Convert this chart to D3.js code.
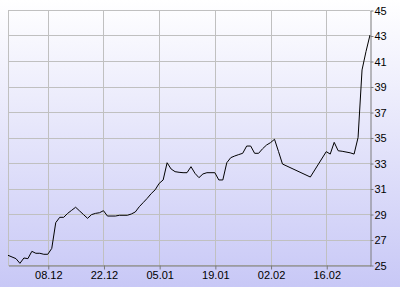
<!DOCTYPE html>
<html>
<head>
<meta charset="utf-8">
<script src="https://cdn.jsdelivr.net/npm/d3@7"></script>
<style>
  body { margin: 0; }
  svg { display: block; font-family: "Liberation Sans", Arial, sans-serif; }
</style>
</head>
<body>
<svg id="chart" width="400" height="287"></svg>
<script>
// data
const dates = [
  "2008-11-28", "2008-11-30", "2008-12-01", "2008-12-02", "2008-12-03", "2008-12-04",
  "2008-12-05", "2008-12-06", "2008-12-07", "2008-12-08", "2008-12-09", "2008-12-10",
  "2008-12-11", "2008-12-12", "2008-12-13", "2008-12-14", "2008-12-15", "2008-12-16",
  "2008-12-17", "2008-12-18", "2008-12-19", "2008-12-20", "2008-12-21", "2008-12-22",
  "2008-12-23", "2008-12-25", "2008-12-26", "2008-12-28", "2008-12-29", "2008-12-30",
  "2008-12-31", "2009-01-01", "2009-01-02", "2009-01-03", "2009-01-04", "2009-01-05",
  "2009-01-06", "2009-01-07", "2009-01-08", "2009-01-09", "2009-01-10", "2009-01-11",
  "2009-01-12", "2009-01-13", "2009-01-14", "2009-01-15", "2009-01-16", "2009-01-17",
  "2009-01-19", "2009-01-20", "2009-01-21", "2009-01-22", "2009-01-23", "2009-01-24",
  "2009-01-25", "2009-01-26", "2009-01-27", "2009-01-28", "2009-01-29", "2009-01-30",
  "2009-01-31", "2009-02-01", "2009-02-02", "2009-02-03", "2009-02-04", "2009-02-05",
  "2009-02-12", "2009-02-16", "2009-02-17", "2009-02-18", "2009-02-19", "2009-02-20",
  "2009-02-22", "2009-02-23", "2009-02-24", "2009-02-25", "2009-02-26", "2009-02-27"
];
const prices = [
  25.76, 25.5, 25.13, 25.55, 25.5, 26.07,
  25.92, 25.92, 25.84, 25.84, 26.3, 28.32,
  28.74, 28.74, 29.05, 29.29, 29.53, 29.24,
  28.95, 28.66, 28.95, 29.05, 29.1, 29.26,
  28.84, 28.84, 28.9, 28.9, 29.0, 29.16,
  29.57, 29.9, 30.23, 30.6, 30.9, 31.4,
  31.67, 33.02, 32.53, 32.32, 32.27, 32.24,
  32.24, 32.71, 32.19, 31.85, 32.14, 32.24,
  32.24, 31.67, 31.67, 33.02, 33.42, 33.55,
  33.66, 33.76, 34.33, 34.33, 33.76, 33.76,
  34.12, 34.41, 34.6, 34.86, 33.9, 32.92,
  31.9, 33.89, 33.7, 34.62, 33.96, 33.92,
  33.8, 33.7, 35.0, 40.3, 41.75, 43.04
];
const xDomain = ["2008-11-28", "2009-02-27"];
const xTicks = ["2008-12-08", "2008-12-22", "2009-01-05", "2009-01-19", "2009-02-02", "2009-02-16"];
const yDomain = [25, 45];
const yTicks = [25, 27, 29, 31, 33, 35, 37, 39, 41, 43, 45];

const parse = d3.timeParse("%Y-%m-%d");
const data = dates.map((d, i) => ({ date: parse(d), value: prices[i] }));

const svg = d3.select("#chart");
const plotLeft = 8, plotRight = 370, plotTop = 10, plotBottom = 265;

// background gradient
const grad = svg.append("defs").append("linearGradient")
  .attr("id", "bg").attr("x1", 0).attr("y1", 0).attr("x2", 0).attr("y2", 1);
grad.append("stop").attr("offset", "0%").attr("stop-color", "#ffffff");
grad.append("stop").attr("offset", "100%").attr("stop-color", "#c8c8f6");
svg.append("rect").attr("width", 400).attr("height", 287).attr("fill", "url(#bg)");

const x = d3.scaleTime()
  .domain(xDomain.map(parse))
  .range([plotLeft, plotRight]);
const y = d3.scaleLinear()
  .domain(yDomain)
  .range([plotBottom, plotTop]);

// grid
const grid = svg.append("g")
  .attr("stroke", "#c0c0c0")
  .attr("shape-rendering", "crispEdges");
grid.selectAll(".hg").data(yTicks).join("line")
  .attr("x1", plotLeft).attr("x2", plotRight)
  .attr("y1", d => Math.round(y(d)) + 0.5).attr("y2", d => Math.round(y(d)) + 0.5);
grid.selectAll(".vg").data(xTicks.map(parse)).join("line")
  .attr("x1", d => Math.round(x(d)) + 0.5).attr("x2", d => Math.round(x(d)) + 0.5)
  .attr("y1", plotTop).attr("y2", plotBottom);
grid.append("line")
  .attr("x1", plotLeft + 0.5).attr("x2", plotLeft + 0.5)
  .attr("y1", plotTop).attr("y2", plotBottom);

// line
const line = d3.line()
  .x(d => x(d.date))
  .y(d => y(d.value));
svg.append("path")
  .datum(data)
  .attr("fill", "none")
  .attr("stroke", "#000")
  .attr("stroke-width", 1)
  .attr("stroke-linejoin", "round")
  .attr("d", line);

// axes
const xAxis = d3.axisBottom(x)
  .tickValues(xTicks.map(parse))
  .tickFormat(d3.timeFormat("%d.%m"))
  .tickSize(4)
  .tickSizeOuter(0)
  .tickPadding(2);
const gx = svg.append("g")
  .attr("transform", `translate(0.5,${plotBottom + 0.5})`)
  .call(xAxis);

const yAxis = d3.axisRight(y)
  .tickValues(yTicks)
  .tickSize(3)
  .tickSizeOuter(0)
  .tickPadding(1);
const gy = svg.append("g")
  .attr("transform", `translate(${plotRight + 0.5},0.5)`)
  .call(yAxis);

[gx, gy].forEach(g => {
  g.select(".domain").attr("stroke", "#7a7a7a");
  g.selectAll(".tick line").attr("stroke", "#7a7a7a");
  g.selectAll("text")
    .attr("fill", "#000")
    .style("font-family", "'Liberation Sans', Arial, sans-serif")
    .style("font-size", "11px");
});
</script>
</body>
</html>
